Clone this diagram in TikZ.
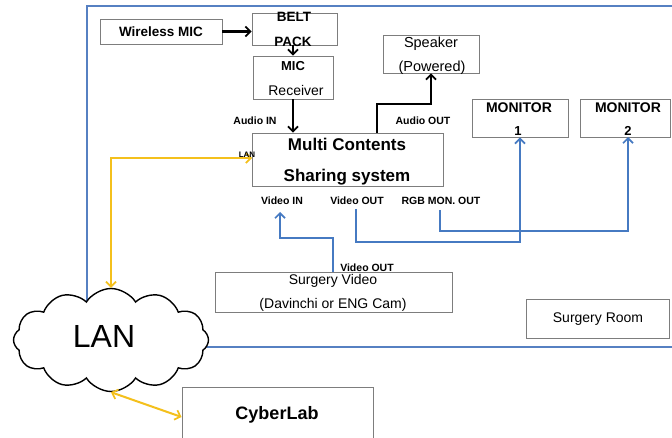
\documentclass[tikz,border=0pt]{standalone}
\usepackage{fontspec}
\setmainfont{Liberation Sans}
\usetikzlibrary{arrows.meta,shapes.symbols}
\definecolor{lineblue}{RGB}{70,122,194}
\definecolor{roomblue}{RGB}{86,128,194}
\definecolor{lanyellow}{RGB}{244,192,28}
\definecolor{boxgrey}{RGB}{125,125,125}
\newcommand\myfs[1]{\fontsize{#1}{#1}\selectfont}
\tikzset{
  box/.style={draw=boxgrey, line width=0.9pt, fill=white, inner sep=0pt, anchor=center},
  lbl/.style={inner sep=0pt, anchor=center},
  barb/.tip={Straight Barb[length=5pt,width=10pt,line width=1.7pt]},
  tipb/.style={-barb},
  blk/.style={draw=black, line width=2.2pt, tipb},
  blu/.style={draw=lineblue, line width=2pt},
  bluarr/.style={blu, tipb},
  ylw/.style={draw=lanyellow, line width=2pt, barb-barb},
}
\begin{document}
\begin{tikzpicture}[x=1pt,y=-1pt]
\useasboundingbox (0,0) rectangle (672,438);
\fill[white] (0,0) rectangle (672,438);
% surgery room border
\draw[roomblue, line width=1.6pt] (87,6) rectangle (690,347);
% cloud
\node[cloud, draw=black, line width=1.4pt, fill=white, cloud puffs=12, cloud puff arc=115,
      aspect=1.9, minimum width=195pt, minimum height=103pt, inner sep=0pt] (lan) at (111,340) {};
% boxes
\node[box, minimum width=122pt, minimum height=25pt] (wmic) at (161,31.5) {};
\node[box, minimum width=85pt, minimum height=32pt] (belt) at (294.5,29) {};
\node[box, minimum width=80pt, minimum height=43pt] (micr) at (293,77.5) {};
\node[box, minimum width=191pt, minimum height=53pt] (mcs) at (347.5,159.5) {};
\node[box, minimum width=96pt, minimum height=38pt] (spk) at (431,54) {};
\node[box, minimum width=96pt, minimum height=38pt] (mon1) at (520,118) {};
\node[box, minimum width=90pt, minimum height=38pt] (mon2) at (625,118) {};
\node[box, minimum width=237pt, minimum height=40pt] (surg) at (333.5,292) {};
\node[box, minimum width=143pt, minimum height=39pt] (room) at (597.5,318.5) {};
\node[box, minimum width=191pt, minimum height=60pt] (cyber) at (277.5,417) {};
% coordinates
\coordinate (ao) at (377,104);
\coordinate (vo) at (356,209);
\coordinate (vobend) at (356,242);
\coordinate (rgb) at (440,210);
\coordinate (rgbbend) at (440,231);
\coordinate (m2in) at (628,137);
\coordinate (vi) at (280,212);
\coordinate (vibend) at (333,238);
\coordinate (lanin) at (252,158);
% black connectors
\draw[blk] (wmic.east) -- (wmic.east -| belt.west);
\draw[blk] (micr.north |- belt.south) -- (micr.north);
\draw[blk] (micr.south) -- (micr.south |- mcs.north);
\draw[blk] (ao |- mcs.north) -- (ao) -| (spk.south);
% blue connectors
\draw[bluarr] (vo) -- (vobend) -| (mon1.south);
\draw[bluarr] (rgb) -- (rgbbend) -| (m2in);
\draw[bluarr] (vibend |- surg.north) -- (vibend) -| (vi);
% yellow connectors
\draw[ylw] (lan.north) |- (lanin);
\draw[ylw] (lan.south) -- (cyber.west);
% texts
\node[lbl, font=\bfseries\myfs{13.5}] (twmic) at (161,32) {Wireless MIC};
\node[lbl, font=\bfseries\myfs{13.5}] (tbelt) at (294,17) {BELT};
\node[lbl, font=\bfseries\myfs{13.5}] (tpack) at (293,42) {PACK};
\node[lbl, font=\bfseries\myfs{13}] (tmic) at (293,66) {MIC};
\node[lbl, font=\myfs{14}] (trec) at (296,90) {Receiver};
\node[lbl, font=\myfs{14.5}] (tspk) at (431,44) {Speaker};
\node[lbl, font=\myfs{14.5}] (tpow) at (432,68) {(Powered)};
\node[lbl, font=\bfseries\myfs{14}] (tmon1) at (519,108) {MONITOR};
\node[lbl, font=\bfseries\myfs{13}] (tone) at (518,131) {1};
\node[lbl, font=\bfseries\myfs{14}] (tmon2) at (628,108) {MONITOR};
\node[lbl, font=\bfseries\myfs{13}] (ttwo) at (628,131) {2};
\node[lbl, font=\bfseries\myfs{17}] (tmc) at (347,144) {Multi Contents};
\node[lbl, font=\bfseries\myfs{17}] (tss) at (347,177) {Sharing system};
\node[lbl, font=\bfseries\myfs{10.5}] (tain) at (255,121) {Audio IN};
\node[lbl, font=\bfseries\myfs{10.5}] (taout) at (423,121) {Audio OUT};
\node[lbl, font=\bfseries\myfs{8}] (tlanl) at (247,155) {LAN};
\node[lbl, font=\bfseries\myfs{10.5}] (tvin) at (282,201) {Video IN};
\node[lbl, font=\bfseries\myfs{10.5}] (tvout) at (357,201) {Video OUT};
\node[lbl, font=\bfseries\myfs{10.5}] (trgb) at (441,201) {RGB MON. OUT};
\node[lbl, font=\bfseries\myfs{10.5}] (tvout2) at (367,268) {Video OUT};
\node[lbl, font=\myfs{14}] (tsv) at (333,281) {Surgery Video};
\node[lbl, font=\myfs{14}] (tdav) at (333,305) {(Davinchi or ENG Cam)};
\node[lbl, font=\myfs{14}] (troom) at (598,319) {Surgery Room};
\node[lbl, font=\bfseries\myfs{18}] (tcyb) at (277,415) {CyberLab};
\node[lbl, font=\myfs{32}] (tlan) at (104,336) {LAN};
\end{tikzpicture}
\end{document}
